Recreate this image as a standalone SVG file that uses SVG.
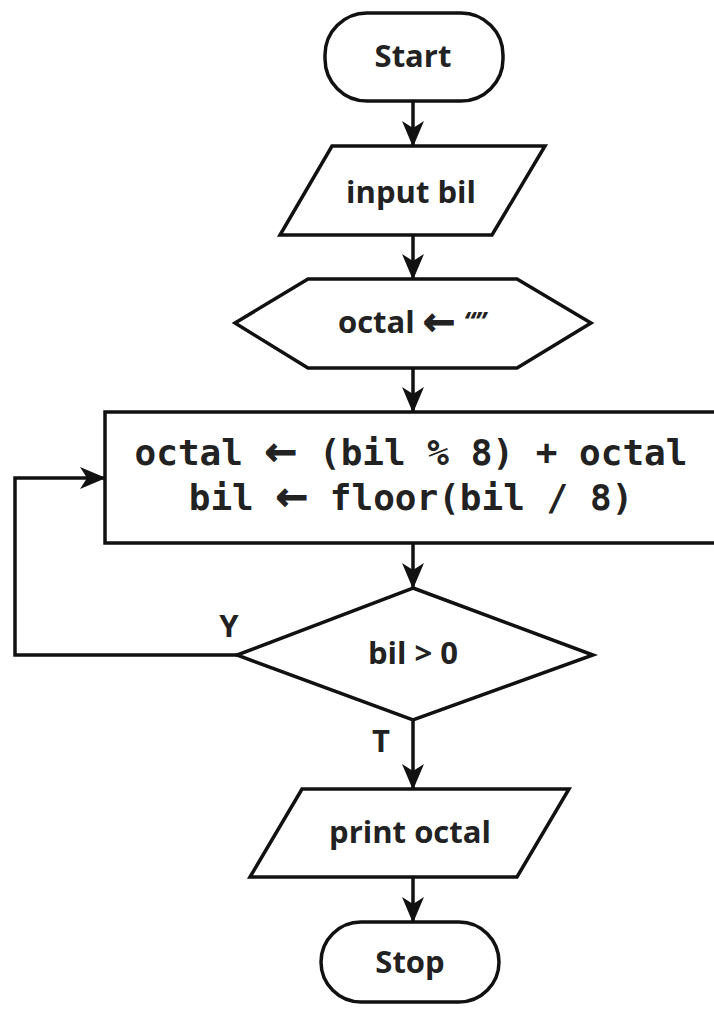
<svg xmlns="http://www.w3.org/2000/svg" width="714" height="1012" viewBox="0 0 714 1012">
<defs>
<marker id="arr" markerUnits="userSpaceOnUse" markerWidth="26" markerHeight="22" viewBox="0 0 26 22" refX="25" refY="11" orient="auto">
<path d="M0,0 L26,11 L0,22 L7,11 z" fill="#111"/>
</marker>
<style>
.sh{fill:#fff;stroke:#111;stroke-width:3.5;stroke-linejoin:miter}
.t{font-family:"Open Sans","Noto Sans","DejaVu Sans",sans-serif;font-weight:bold;font-size:31px;fill:#222;text-anchor:middle;dominant-baseline:central}
.m{font-family:"DejaVu Sans Mono","Liberation Mono",monospace;font-weight:bold;font-size:36px;fill:#222;text-anchor:middle}
.a{font-family:"DejaVu Sans",sans-serif;font-weight:bold;font-size:39px;stroke:#222;stroke-width:1}
.c{fill:none;stroke:#111;stroke-width:3.5;marker-end:url(#arr)}
</style>
</defs>
<rect width="714" height="1012" fill="#fff"/>
<g id="connectors">
<line class="c" x1="413" y1="101" x2="413" y2="146"/>
<line class="c" x1="413" y1="235" x2="413" y2="279"/>
<line class="c" x1="413" y1="368" x2="413" y2="412"/>
<line class="c" x1="413" y1="543" x2="413" y2="588"/>
<line class="c" x1="413" y1="720" x2="413" y2="789"/>
<line class="c" x1="413" y1="877" x2="413" y2="922"/>
<polyline class="c" points="237,655 15,655 15,478 105,478"/>
<text class="t" x="229" y="625">Y</text>
<text class="t" x="381" y="740">T</text>
</g>
<g id="start">
<rect class="sh" x="325" y="13" width="178" height="88" rx="42"/>
<text class="t" x="413" y="55">Start</text>
</g>
<g id="input">
<polygon class="sh" points="332,146 545,146 492,235 280,235"/>
<text class="t" x="411" y="191">input bil</text>
</g>
<g id="init">
<polygon class="sh" points="308,279 517,279 591,323 517,368 308,368 235,323"/>
<text class="t" x="412" y="321">octal <tspan class="a">←</tspan> <tspan font-style="italic" font-size="26">“”</tspan></text>
</g>
<g id="process">
<rect class="sh" x="105" y="412" width="640" height="131"/>
<text class="m" x="411" y="465">octal <tspan class="a">←</tspan> (bil % 8) + octal</text>
<text class="m" x="411" y="510">bil <tspan class="a">←</tspan> floor(bil / 8)</text>
</g>
<g id="decision">
<polygon class="sh" points="413,588 593,655 413,720 237,655"/>
<text class="t" x="413" y="652">bil &gt; 0</text>
</g>
<g id="print">
<polygon class="sh" points="302,789 569,789 517,877 250,877"/>
<text class="t" x="410" y="831">print octal</text>
</g>
<g id="stop">
<rect class="sh" x="321" y="922" width="178" height="80" rx="40"/>
<text class="t" x="410" y="961">Stop</text>
</g>
</svg>
